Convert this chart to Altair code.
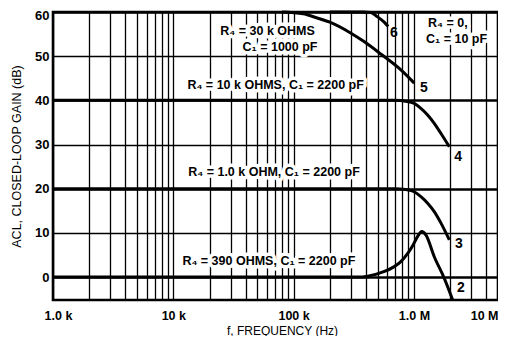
import altair as alt
import pandas as pd

# ---- data (frequency in Hz, gain in dB) ----
c2_f = [1e3, 2.0e5, 3.4e5, 4.14e5, 5.62e5, 6.81e5, 7.79e5, 8.91e5, 9.82e5, 1.08e6, 1.16e6, 1.26e6, 1.476e6, 1.789e6, 2.10e6]
c2_db = [0, 0, 0, 0.2, 1.2, 2.3, 3.5, 5.4, 7.2, 9.3, 10.3, 9.5, 4.6, -0.3, -5.2]
c3_f = [1e3, 7.0e5, 8.5e5, 1.006e6, 1.143e6, 1.30e6, 1.476e6, 1.679e6, 1.97e6]
c3_db = [20, 20, 19.8, 19.3, 18.2, 16.7, 14.8, 12.2, 8.4]
c4_f = [1e3, 7.0e5, 8.5e5, 1.006e6, 1.143e6, 1.30e6, 1.476e6, 1.679e6, 1.97e6]
c4_db = [40, 40, 39.8, 39.3, 38.2, 36.7, 34.8, 32.5, 29.5]
c5_f = [8e4, 1.2e5, 1.55e5, 2.0e5, 3.0e5, 3.85e5, 5.3e5, 7.8e5, 1.006e6]
c5_db = [60, 59.6, 58.7, 57.7, 55.2, 53.3, 50.5, 46.9, 43.9]
c6_f = [2e5, 3.8e5, 4.38e5, 4.98e5, 5.66e5, 6.11e5]
c6_db = [60, 60, 59.9, 58.9, 57.7, 56.7]

curve_ids = ["2", "3", "4", "5", "6"]
curve_num_f = [2.46e6, 2.37e6, 2.33e6, 1.21e6, 6.81e5]
curve_num_db = [-2.5, 7.5, 27.2, 42.8, 55.2]

note_text = ["R₄ = 30 k OHMS", "C₁ = 1000 pF", "R₄ = 10 k OHMS, C₁ = 2200 pF",
             "R₄ = 1.0 k OHM, C₁ = 2200 pF", "R₄ = 390 OHMS, C₁ = 2200 pF",
             "R₄ = 0,", "C₁ = 10 pF"]
note_f = [2.46e4, 3.76e4, 1.31e4, 1.33e4, 1.19e4, 1.31e6, 1.26e6]
note_db = [55.7, 52.1, 43.5, 23.8, 3.6, 57.5, 53.9]

x_grid = [m * 10 ** e for e in (3, 4, 5) for m in range(1, 10)] + [1e6, 2e6, 3e6, 4e6, 5e6]
x_tick_labels = {1e3: "1.0 k", 1e4: "10 k", 1e5: "100 k", 1e6: "1.0 M", 5e6: "10 M"}
y_grid = list(range(0, 61, 5))

FONT = "Liberation Sans, Arial, Helvetica, sans-serif"

rows = []
for cid, fs, ds in [("2", c2_f, c2_db), ("3", c3_f, c3_db), ("4", c4_f, c4_db),
                    ("5", c5_f, c5_db), ("6", c6_f, c6_db)]:
    for i, (f, d) in enumerate(zip(fs, ds)):
        rows.append({"curve": cid, "f": f, "db": d, "order": i})
curves = pd.DataFrame(rows)
nums = pd.DataFrame({"t": curve_ids, "f": curve_num_f, "db": curve_num_db})
notes = pd.DataFrame({"t": note_text, "f": note_f, "db": note_db})

label_expr = " : ".join(
    [f"datum.value == {v} ? '{t}'" for v, t in x_tick_labels.items()]) + " : ''"

xscale = alt.Scale(type="log", domain=[1e3, 5e6], nice=False)
yscale = alt.Scale(domain=[-5.2, 60], nice=False, zero=False)

xaxis = alt.Axis(values=x_grid, labelExpr=label_expr, grid=True, gridColor="black",
                 gridWidth=1.3, gridOpacity=1, ticks=False, tickSize=0, domain=False,
                 labelFont=FONT, labelFontSize=12.5, labelFontWeight="bold", labelColor="black",
                 labelPadding=9, labelFlush=False, labelOverlap=False,
                 labelAlign={"condition": {"test": "datum.value >= 4999999", "value": "right"},
                             "value": "center"},
                 labelOffset={"condition": {"test": "datum.value <= 1001", "value": 5}, "value": 0},
                 title="f, FREQUENCY (Hz)", titleFont=FONT, titleFontSize=12,
                 titleFontWeight="normal", titleColor="black", titleX=229, titleY=30,
                 titleAlign="center", titleBaseline="middle")
yaxis = alt.Axis(values=y_grid, labelExpr="datum.value % 10 === 0 ? datum.label : ''",
                 grid=True, gridColor="black", gridOpacity=1,
                 gridWidth={"condition": {"test": "datum.value % 20 === 0", "value": 2.6}, "value": 1.3},
                 ticks=False, tickSize=0, domain=False,
                 labelFont=FONT, labelFontSize=13, labelFontWeight="bold", labelColor="black",
                 labelPadding=4,
                 labelOffset={"condition": {"test": "datum.value >= 60", "value": 3}, "value": 0},
                 title="ACL, CLOSED-LOOP GAIN (dB)", titleFont=FONT, titleFontSize=12.5,
                 titleFontWeight="normal", titleColor="black", titleX=-37, titleY=144,
                 titleAngle=270, titleAlign="center", titleBaseline="middle")

base_x = alt.X("f:Q", scale=xscale, axis=xaxis)
base_y = alt.Y("db:Q", scale=yscale, axis=yaxis)

halo = alt.Chart(notes).mark_text(align="left", baseline="middle", font=FONT, fontSize=12.5,
                                  fontWeight="bold", fill="white", stroke="white",
                                  strokeWidth=7, strokeJoin="round").encode(
    x=alt.X("f:Q", scale=xscale), y=alt.Y("db:Q", scale=yscale), text="t:N")

lines = alt.Chart(curves).mark_line(color="black", strokeWidth=3, interpolate="monotone").encode(
    x=base_x, y=base_y, detail="curve:N", order="order:Q")

note_marks = alt.Chart(notes).mark_text(align="left", baseline="middle", font=FONT, fontSize=12.5,
                                        fontWeight="bold", color="black").encode(
    x=alt.X("f:Q", scale=xscale), y=alt.Y("db:Q", scale=yscale), text="t:N")

num_marks = alt.Chart(nums).mark_text(align="center", baseline="middle", font=FONT, fontSize=14,
                                      fontWeight="bold", color="black").encode(
    x=alt.X("f:Q", scale=xscale), y=alt.Y("db:Q", scale=yscale), text="t:N")

chart = alt.layer(halo, lines, note_marks, num_marks).properties(
    width=445, height=288,
    autosize=alt.AutoSizeParams(type="none"),
    padding={"left": 45, "top": 4, "right": 0, "bottom": 36},
    background="white",
).configure_view(stroke="black", strokeWidth=2.6)

chart.save("out.html", embed_options={"renderer": "svg", "actions": False})
